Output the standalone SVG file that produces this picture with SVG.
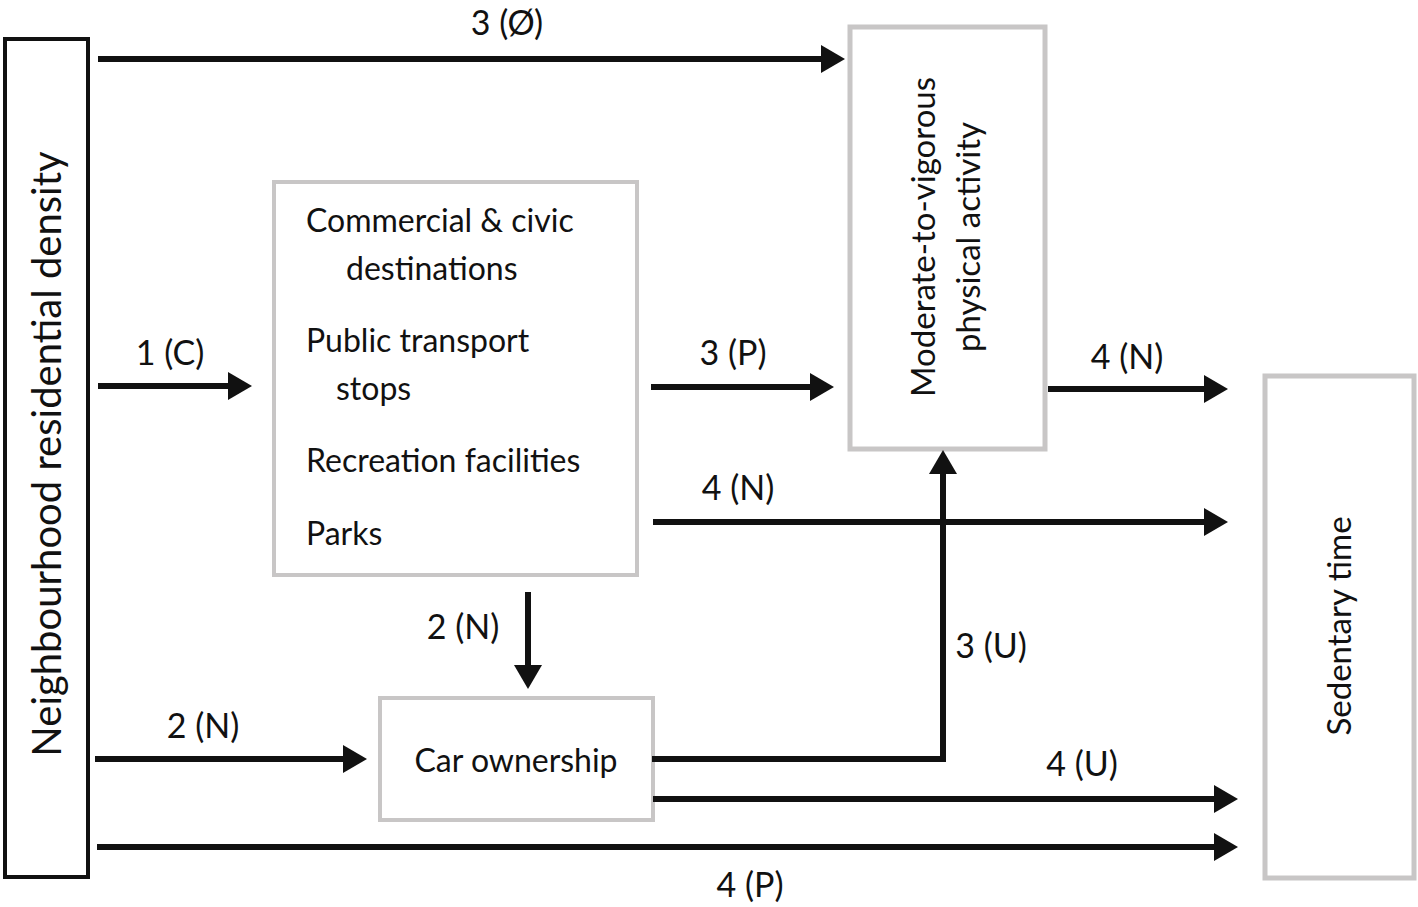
<svg xmlns="http://www.w3.org/2000/svg" width="1418" height="907" viewBox="0 0 1418 907">
<style>
text{font-family:Lato,"Open Sans","Liberation Sans",sans-serif;fill:#111;}
.t{font-size:32px;}
.lbl{font-size:34px;text-anchor:middle;}
.gbox{fill:#fff;stroke:#c8c6c6;stroke-width:4;}
.con{stroke:#111;stroke-width:6;fill:none;marker-end:url(#ah);}
</style>
<defs>
<marker id="ah" markerUnits="userSpaceOnUse" markerWidth="24" markerHeight="28" refX="2" refY="14" orient="auto">
<path d="M0,0 L24,14 L0,28 z" fill="#111"/>
</marker>
</defs>
<rect width="1418" height="907" fill="#fff"/>
<g id="density">
<rect x="5" y="39" width="83" height="838" fill="#fff" stroke="#111" stroke-width="4"/>
<text class="t" transform="translate(61,454) rotate(-90)" text-anchor="middle" style="font-size:40px">Neighbourhood residential density</text>
</g>
<g id="destinations">
<rect class="gbox" x="274" y="182" width="363" height="393"/>
<text class="t" x="306" y="232">Commercial &amp; civic</text>
<text class="t" x="346" y="280">destinations</text>
<text class="t" x="306" y="352">Public transport</text>
<text class="t" x="336" y="400">stops</text>
<text class="t" x="306" y="472">Recreation facilities</text>
<text class="t" x="306" y="545">Parks</text>
</g>
<g id="mvpa">
<rect class="gbox" x="850" y="27" width="195" height="422" style="stroke-width:5"/>
<text class="t" transform="translate(935,237) rotate(-90)" text-anchor="middle" style="font-size:33px">Moderate-to-vigorous</text>
<text class="t" transform="translate(980,237) rotate(-90)" text-anchor="middle" style="font-size:33px">physical activity</text>
</g>
<g id="sedentary">
<rect class="gbox" x="1265" y="376" width="149" height="502" style="stroke-width:5"/>
<text class="t" transform="translate(1351,626) rotate(-90)" text-anchor="middle" style="font-size:33px">Sedentary time</text>
</g>
<g id="car">
<rect class="gbox" x="380" y="698" width="273" height="122"/>
<text class="t" x="516" y="772" text-anchor="middle">Car ownership</text>
</g>
<g id="connectors">
<line class="con" x1="98" y1="59" x2="823" y2="59"/>
<line class="con" x1="98" y1="386" x2="230" y2="386"/>
<line class="con" x1="651" y1="387" x2="812" y2="387"/>
<line class="con" x1="1048" y1="389" x2="1206" y2="389"/>
<line class="con" x1="653" y1="522" x2="1206" y2="522"/>
<polyline class="con" points="652,759 943,759 943,472"/>
<line class="con" x1="528" y1="592" x2="528" y2="667"/>
<line class="con" x1="95" y1="759" x2="345" y2="759"/>
<line class="con" x1="653" y1="799" x2="1216" y2="799"/>
<line class="con" x1="97" y1="847" x2="1216" y2="847"/>
<text class="lbl" x="507" y="35">3 (Ø)</text>
<text class="lbl" x="170" y="365">1 (C)</text>
<text class="lbl" x="733" y="365">3 (P)</text>
<text class="lbl" x="1127" y="369">4 (N)</text>
<text class="lbl" x="738" y="500">4 (N)</text>
<text class="lbl" x="991" y="658">3 (U)</text>
<text class="lbl" x="463" y="639">2 (N)</text>
<text class="lbl" x="203" y="738">2 (N)</text>
<text class="lbl" x="1082" y="776">4 (U)</text>
<text class="lbl" x="750" y="897">4 (P)</text>
</g>
</svg>
